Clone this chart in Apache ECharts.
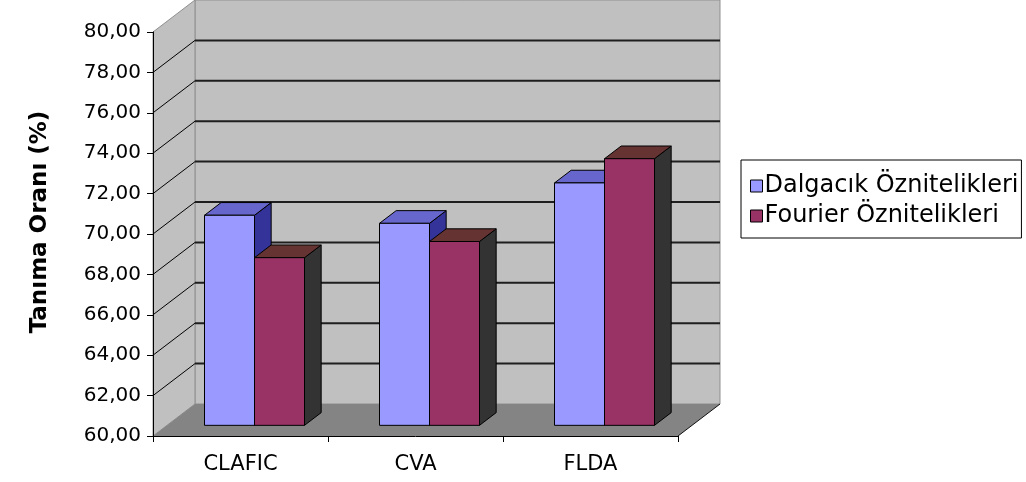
<!DOCTYPE html>
<html>
<head>
<meta charset="utf-8">
<script src="https://cdn.jsdelivr.net/npm/echarts@6/dist/echarts.min.js"></script>
<style>
  html, body { margin: 0; padding: 0; background: #ffffff; }
  #chart { width: 1026px; height: 482px; }
</style>
</head>
<body>
<div id="chart"></div>
<script>
// Recognition rates per method, two feature sets
const categories = ['CLAFIC', 'CVA', 'FLDA'];
const seriesNames = ['Dalgacık Öznitelikleri', 'Fourier Öznitelikleri'];
const dalgacikValues = [70.4, 70.0, 72.0];
const fourierValues = [68.3, 69.1, 73.2];
const yTicks = [60, 62, 64, 66, 68, 70, 72, 74, 76, 78, 80];
const yTitle = 'Tanıma Oranı (%)';

// Oblique 3D projection: depth 0 = front plane, depth 1 = back wall
const DEPTH_X = 42, DEPTH_Y = -32;
const BAR_FRONT = 1 / 3, BAR_BACK = 0.73;
const BAR_SHARE = 50 / 175;
const FONT = 'DejaVu Sans';

const faceColors = [
  { front: '#9999ff', top: '#6666cc', side: '#333399' },
  { front: '#993366', top: '#663333', side: '#333333' }
];

function shift(p, d) {
  return [p[0] + DEPTH_X * d, p[1] + DEPTH_Y * d];
}

function poly(points, fill, stroke, width) {
  return {
    type: 'polygon',
    shape: { points: points },
    style: { fill: fill, stroke: stroke || null, lineWidth: width || 0 }
  };
}

function line(a, b, stroke, width) {
  return {
    type: 'line',
    shape: { x1: a[0], y1: a[1], x2: b[0], y2: b[1] },
    style: { stroke: stroke, lineWidth: width }
  };
}

// Back wall, side wall and floor
function renderWalls(params, api) {
  const cs = params.coordSys;
  const x0 = cs.x, x1 = cs.x + cs.width;
  const yBot = api.coord([0, yTicks[0]])[1];
  const yTop = api.coord([0, yTicks[yTicks.length - 1]])[1];
  const wallStroke = '#8f8f8f';
  return {
    type: 'group',
    children: [
      poly([shift([x0, yTop], 1), shift([x1, yTop], 1), shift([x1, yBot], 1), shift([x0, yBot], 1)],
        '#c0c0c0', wallStroke, 1),
      poly([[x0, yTop], shift([x0, yTop], 1), shift([x0, yBot], 1), [x0, yBot]],
        '#c0c0c0', wallStroke, 1),
      poly([[x0, yBot], shift([x0, yBot], 1), shift([x1, yBot], 1), [x1, yBot]],
        '#848484', null, 0),
      line([x1, yBot], shift([x1, yBot], 1), '#111111', 1)
    ]
  };
}

// Gridlines across the back wall and the side wall
function renderGrid(params, api) {
  const cs = params.coordSys;
  const x0 = cs.x, x1 = cs.x + cs.width;
  const y = api.coord([0, api.value(0)])[1];
  return {
    type: 'group',
    children: [
      line(shift([x0, y], 1), shift([x1, y], 1), '#1e1e1e', 2),
      line([x0, y], shift([x0, y], 1), '#000000', 1)
    ]
  };
}

// Box-shaped bar: front, top and right faces
function makeBarRenderer(seriesIndex) {
  const c = faceColors[seriesIndex];
  return function (params, api) {
    const idx = api.value(0);
    const val = api.value(1);
    const band = api.size([1, 0])[0];
    const w = band * BAR_SHARE;
    const center = api.coord([idx, val]);
    const base = api.coord([idx, yTicks[0]]);
    const xa = center[0] - w + seriesIndex * w;
    const xb = xa + w;
    const tl = shift([xa, center[1]], BAR_FRONT);
    const tr = shift([xb, center[1]], BAR_FRONT);
    const bl = shift([xa, base[1]], BAR_FRONT);
    const br = shift([xb, base[1]], BAR_FRONT);
    const dd = BAR_BACK - BAR_FRONT;
    const tl2 = shift(tl, dd), tr2 = shift(tr, dd), br2 = shift(br, dd);
    return {
      type: 'group',
      children: [
        poly([tr, tr2, br2, br], c.side, '#000000', 1),
        poly([tl, tl2, tr2, tr], c.top, '#000000', 1),
        poly([tl, tr, br, bl], c.front, '#000000', 1)
      ]
    };
  };
}

const chart = echarts.init(document.getElementById('chart'), null, { renderer: 'canvas' });

chart.setOption({
  backgroundColor: '#ffffff',
  animation: false,
  grid: { left: 153, right: 348, top: 32, bottom: 46 },
  legend: {
    orient: 'vertical',
    left: 741,
    top: 160,
    padding: [14, 3, 10, 9],
    itemGap: 6,
    itemWidth: 12,
    itemHeight: 12,
    icon: 'rect',
    borderColor: '#000000',
    borderWidth: 1,
    backgroundColor: '#ffffff',
    itemStyle: { borderColor: '#000000', borderWidth: 1 },
    textStyle: { fontFamily: FONT, fontSize: 24, color: '#000000', padding: [0, 0, 0, -3] },
    data: seriesNames
  },
  xAxis: {
    type: 'category',
    data: categories,
    z: 10,
    axisLine: { show: true, lineStyle: { color: '#000000', width: 1 } },
    axisTick: { show: true, length: 6, lineStyle: { color: '#000000' } },
    axisLabel: { fontFamily: FONT, fontSize: 21, color: '#000000', margin: 18 },
    splitLine: { show: false }
  },
  yAxis: {
    type: 'value',
    min: yTicks[0],
    max: yTicks[yTicks.length - 1],
    interval: yTicks[1] - yTicks[0],
    z: 10,
    name: yTitle,
    nameLocation: 'middle',
    nameRotate: 90,
    nameGap: 101,
    nameTextStyle: {
      fontFamily: FONT, fontSize: 23, fontWeight: 'bold', color: '#000000',
      padding: [0, 0, 0, 24]
    },
    axisLine: { show: true, lineStyle: { color: '#000000', width: 1 } },
    axisTick: { show: true, length: 6, lineStyle: { color: '#000000' } },
    axisLabel: {
      fontFamily: FONT, fontSize: 20, color: '#000000', margin: 12,
      formatter: function (v) { return v.toFixed(2).replace('.', ','); }
    },
    splitLine: { show: false }
  },
  series: [
    {
      type: 'custom',
      silent: true,
      renderItem: renderWalls,
      data: [[0, yTicks[0]]],
      z: 1
    },
    {
      type: 'custom',
      silent: true,
      renderItem: renderGrid,
      encode: { x: null, y: 0 },
      data: yTicks.slice(1, -1).map(function (t) { return [t]; }),
      z: 2
    },
    {
      name: seriesNames[0],
      type: 'custom',
      renderItem: makeBarRenderer(0),
      itemStyle: { color: faceColors[0].front },
      data: dalgacikValues.map(function (v, i) { return [i, v]; }),
      z: 3
    },
    {
      name: seriesNames[1],
      type: 'custom',
      renderItem: makeBarRenderer(1),
      itemStyle: { color: faceColors[1].front },
      data: fourierValues.map(function (v, i) { return [i, v]; }),
      z: 3
    }
  ]
});
</script>
</body>
</html>
